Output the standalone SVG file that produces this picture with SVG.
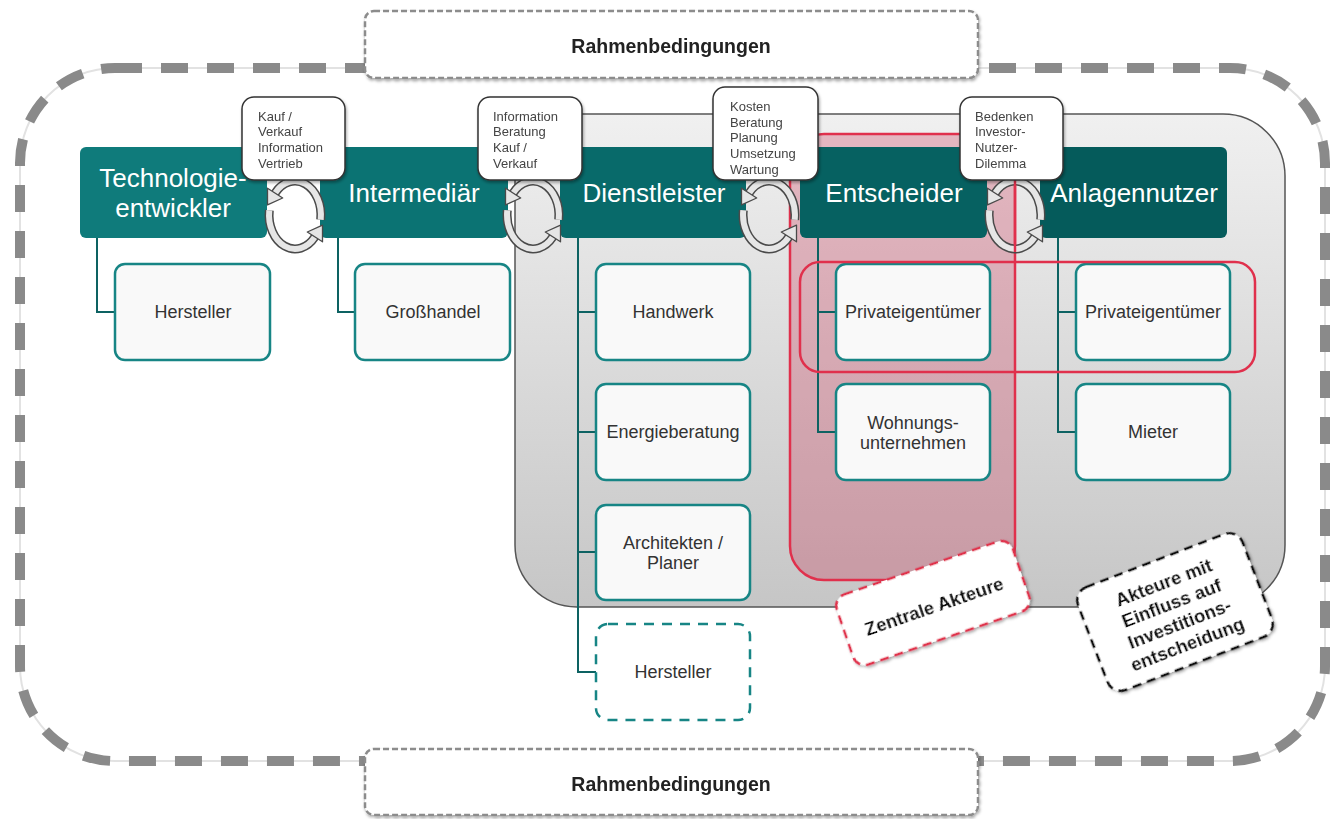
<svg xmlns="http://www.w3.org/2000/svg" width="1342" height="819" viewBox="0 0 1342 819">
<defs>
  <linearGradient id="panelG" x1="0" y1="0" x2="0" y2="1">
    <stop offset="0" stop-color="#f0f0f0"/>
    <stop offset="1" stop-color="#c6c6c6"/>
  </linearGradient>
  <filter id="sh" x="-10%" y="-10%" width="125%" height="130%">
    <feDropShadow dx="1" dy="2" stdDeviation="1.5" flood-color="#000" flood-opacity="0.35"/>
  </filter>
  <g id="cyc">
    <path d="M25.7,4.7 A26 34 0 0 0 -19.9,-21.9" fill="none" stroke="#4a4a4a" stroke-width="9"/>
    <path d="M25.7,4.7 A26 34 0 0 0 -19.9,-21.9" fill="none" stroke="#e6e6e6" stroke-width="6"/>
    <polygon points="-12.3,-17 -27.5,-26.8 -27.5,-10.1" fill="#e6e6e6" stroke="#4a4a4a" stroke-width="1.3" stroke-linejoin="round"/>
    <path d="M-25.7,-4.7 A26 34 0 0 0 19.9,21.9" fill="none" stroke="#4a4a4a" stroke-width="9"/>
    <path d="M-25.7,-4.7 A26 34 0 0 0 19.9,21.9" fill="none" stroke="#e6e6e6" stroke-width="6"/>
    <polygon points="12.3,17 27.5,26.8 27.5,10.1" fill="#e6e6e6" stroke="#4a4a4a" stroke-width="1.3" stroke-linejoin="round"/>
  </g>
</defs>
<style>
  .hdr { font-family: "Liberation Sans", Arial, sans-serif; font-size: 26px; fill: #ffffff; text-anchor: middle; }
  .child { fill: #f9f9f9; stroke: #178585; stroke-width: 2.5; }
  .ctext { font-family: "Liberation Sans", Arial, sans-serif; font-size: 18px; fill: #333; text-anchor: middle; }
  .call { fill: #ffffff; stroke: #333; stroke-width: 1.5; }
  .calltext { font-family: "Liberation Sans", Arial, sans-serif; font-size: 13px; fill: #444; }
  .conn { fill: none; stroke: #0d6262; stroke-width: 2; }
  .rb { fill: #ffffff; stroke: #8c8c8c; stroke-width: 2.5; stroke-dasharray: 6 3; }
  .rbt { font-family: "Liberation Sans", Arial, sans-serif; font-size: 19.5px; font-weight: bold; fill: #222; text-anchor: middle; }
  .bold { font-family: "Liberation Sans", Arial, sans-serif; font-size: 18.5px; font-weight: bold; fill: #111; text-anchor: middle; }
</style>
<rect width="1342" height="819" fill="#ffffff"/>

<!-- outer frame -->
<g id="frame">
  <rect x="20" y="68" width="1305" height="693" rx="95" fill="none" stroke="#e2e2e2" stroke-width="2"/>
  <rect x="20" y="68" width="1305" height="693" rx="95" fill="none" stroke="#8a8a8a" stroke-width="10" stroke-dasharray="27 19"/>
</g>

<g id="rahmen-top" filter="url(#sh)">
  <rect class="rb" x="365" y="11" width="613" height="67" rx="9"/>
  <text class="rbt" x="671" y="53">Rahmenbedingungen</text>
</g>
<g id="rahmen-bottom" filter="url(#sh)">
  <rect class="rb" x="365" y="749" width="613" height="66" rx="9"/>
  <text class="rbt" x="671" y="791">Rahmenbedingungen</text>
</g>

<!-- gray panel -->
<g id="panel">
  <rect x="515" y="114" width="770" height="493" rx="62" fill="url(#panelG)" stroke="#555" stroke-width="1.5"/>
</g>

<!-- red central column fill -->
<g id="red-column">
  <rect x="790" y="134" width="225" height="446" rx="34" fill="#c8284a" fill-opacity="0.28" stroke="#e0304c" stroke-width="2.5"/>
</g>

<!-- connectors -->
<g id="connectors">
  <path class="conn" d="M97,238 V312 H115"/>
  <path class="conn" d="M338,238 V312 H355"/>
  <path class="conn" d="M578,238 V672 H596 M578,312 H596 M578,432 H596 M578,552 H596"/>
  <path class="conn" d="M818,238 V432 H836 M818,312 H836"/>
  <path class="conn" d="M1058,238 V432 H1076 M1058,312 H1076"/>
</g>

<!-- headers -->
<g id="n-technologie">
  <rect x="80" y="147" width="187" height="91" rx="6" fill="#0f7b7b"/>
  <text class="hdr" x="173" y="187" font-size="25">Technologie-</text>
  <text class="hdr" x="173" y="217" font-size="25">entwickler</text>
</g>
<g id="n-intermediaer">
  <rect x="320" y="147" width="188" height="91" rx="6" fill="#0b7373"/>
  <text class="hdr" x="414" y="202">Intermediär</text>
</g>
<g id="n-dienstleister">
  <rect x="560" y="147" width="186" height="91" rx="6" fill="#086a6a"/>
  <text class="hdr" x="654" y="202">Dienstleister</text>
</g>
<g id="n-entscheider">
  <rect x="800" y="147" width="187" height="91" rx="6" fill="#066161"/>
  <text class="hdr" x="894" y="202">Entscheider</text>
</g>
<g id="n-anlagennutzer">
  <rect x="1040" y="147" width="187" height="91" rx="6" fill="#055b5b"/>
  <text class="hdr" x="1134" y="202">Anlagennutzer</text>
</g>

<!-- child nodes -->
<g id="n-hersteller1">
  <rect class="child" x="115" y="264" width="155" height="96" rx="10" fill="#ffffff"/>
  <text class="ctext" x="193" y="318">Hersteller</text>
</g>
<g id="n-grosshandel">
  <rect class="child" x="355" y="264" width="155" height="96" rx="10" fill="#ffffff"/>
  <text class="ctext" x="433" y="318">Großhandel</text>
</g>
<g id="n-handwerk">
  <rect class="child" x="596" y="264" width="154" height="96" rx="10"/>
  <text class="ctext" x="673" y="318">Handwerk</text>
</g>
<g id="n-energieberatung">
  <rect class="child" x="596" y="384" width="154" height="96" rx="10"/>
  <text class="ctext" x="673" y="438">Energieberatung</text>
</g>
<g id="n-architekten">
  <rect class="child" x="596" y="505" width="154" height="95" rx="10"/>
  <text class="ctext" x="673" y="549">Architekten /</text>
  <text class="ctext" x="673" y="569">Planer</text>
</g>
<g id="n-hersteller2">
  <rect x="596" y="624" width="154" height="96" rx="12" fill="#ffffff" stroke="#178585" stroke-width="2.5" stroke-dasharray="10 8"/>
  <text class="ctext" x="673" y="678">Hersteller</text>
</g>
<g id="n-privat1">
  <rect class="child" x="836" y="264" width="154" height="96" rx="10" fill="#f7f2f3"/>
  <text class="ctext" x="913" y="318">Privateigentümer</text>
</g>
<g id="n-wohnungs">
  <rect class="child" x="836" y="384" width="154" height="96" rx="10" fill="#f7f2f3"/>
  <text class="ctext" x="913" y="429">Wohnungs-</text>
  <text class="ctext" x="913" y="449">unternehmen</text>
</g>
<g id="n-privat2">
  <rect class="child" x="1076" y="264" width="154" height="96" rx="10"/>
  <text class="ctext" x="1153" y="318">Privateigentümer</text>
</g>
<g id="n-mieter">
  <rect class="child" x="1076" y="384" width="154" height="96" rx="10"/>
  <text class="ctext" x="1153" y="438">Mieter</text>
</g>

<!-- red horizontal highlight -->
<g id="red-row">
  <rect x="800" y="262" width="455" height="110" rx="20" fill="none" stroke="#e0304c" stroke-width="2.5"/>
</g>

<!-- cycles -->
<g id="cycles">
  <use href="#cyc" x="295" y="215"/>
  <use href="#cyc" x="533" y="215"/>
  <use href="#cyc" x="769" y="215"/>
  <use href="#cyc" x="1015" y="215"/>
</g>
<line x1="1015" y1="178" x2="1015" y2="252" stroke="#e0304c" stroke-width="2.5"/>

<!-- callouts -->
<g id="c-1" filter="url(#sh)">
  <rect class="call" x="242" y="97" width="103" height="83" rx="12"/>
  <text class="calltext" x="258" y="121">Kauf /</text>
  <text class="calltext" x="258" y="136">Verkauf</text>
  <text class="calltext" x="258" y="152">Information</text>
  <text class="calltext" x="258" y="168">Vertrieb</text>
</g>
<g id="c-2" filter="url(#sh)">
  <rect class="call" x="478" y="97" width="104" height="83" rx="12"/>
  <text class="calltext" x="493" y="121">Information</text>
  <text class="calltext" x="493" y="136">Beratung</text>
  <text class="calltext" x="493" y="152">Kauf /</text>
  <text class="calltext" x="493" y="168">Verkauf</text>
</g>
<g id="c-3" filter="url(#sh)">
  <rect class="call" x="713" y="87" width="105" height="93" rx="12"/>
  <text class="calltext" x="730" y="111">Kosten</text>
  <text class="calltext" x="730" y="127">Beratung</text>
  <text class="calltext" x="730" y="142">Planung</text>
  <text class="calltext" x="730" y="158">Umsetzung</text>
  <text class="calltext" x="730" y="174">Wartung</text>
</g>
<g id="c-4" filter="url(#sh)">
  <rect class="call" x="960" y="97" width="103" height="83" rx="12"/>
  <text class="calltext" x="975" y="121">Bedenken</text>
  <text class="calltext" x="975" y="136">Investor-</text>
  <text class="calltext" x="975" y="152">Nutzer-</text>
  <text class="calltext" x="975" y="168">Dilemma</text>
</g>

<!-- rotated labels -->
<g id="l-zentrale" transform="translate(933,603) rotate(-19)" filter="url(#sh)">
  <rect x="-93" y="-37" width="186" height="74" rx="12" fill="#ffffff" stroke="#e0304c" stroke-width="2.5" stroke-dasharray="9 6"/>
  <text class="bold" x="0" y="10" font-size="19">Zentrale Akteure</text>
</g>
<g id="l-einfluss" transform="translate(1175,612) rotate(-21)" filter="url(#sh)">
  <rect x="-88" y="-55" width="176" height="110" rx="14" fill="#ffffff" stroke="#111" stroke-width="2.5" stroke-dasharray="9 6"/>
  <text class="bold" x="0" y="-25">Akteure mit</text>
  <text class="bold" x="0" y="-3">Einfluss auf</text>
  <text class="bold" x="0" y="19">Investitions-</text>
  <text class="bold" x="0" y="41">entscheidung</text>
</g>
</svg>
